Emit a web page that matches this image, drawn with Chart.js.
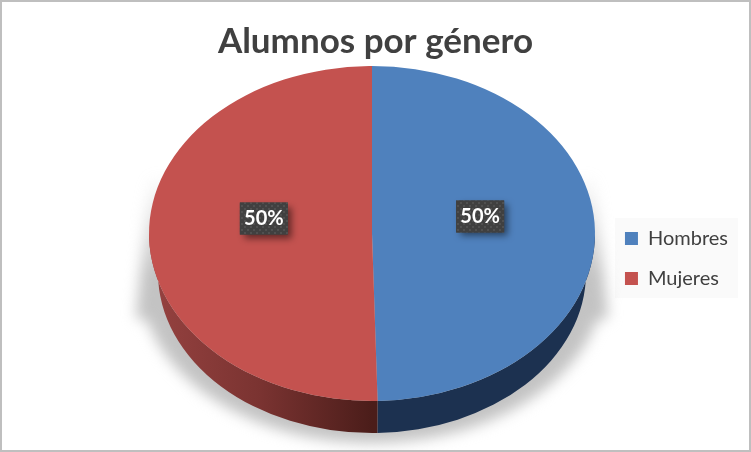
<!DOCTYPE html>
<html>
<head>
<meta charset="utf-8">
<style>
  html, body { margin: 0; padding: 0; background: #fff; }
  canvas { display: block; }
</style>
<script src="https://cdn.jsdelivr.net/npm/chart.js@4"></script>
</head>
<body>
<canvas id="grafico" width="751" height="452"></canvas>
<script>
var titulo = "Alumnos por género";
var categorias = ["Hombres", "Mujeres"];
var valores = [49.6, 50.4];
var colores = ["#4f81bd", "#c4524f"];

// elipse de arriba y elipse de abajo del pastel "3D"
var tapa = { x: 372, y: 233.5, rx: 223, ry: 167.5 };
var base = { x: 372, y: 273, rx: 214, ry: 160 };
var cajaLeyenda = { x: 615, y: 218, w: 123, h: 80 };

function patronEtiqueta(ctx) {
  var c = document.createElement("canvas");
  c.width = 6;
  c.height = 6;
  var p = c.getContext("2d");
  p.fillStyle = "#404040";
  p.fillRect(0, 0, 6, 6);
  p.fillStyle = "#505050";
  p.fillRect(1, 1, 2, 2);
  p.fillRect(4, 4, 2, 2);
  return ctx.createPattern(c, "repeat");
}

function dibujarSombra(ctx) {
  var g = ctx.createLinearGradient(0, 175, 0, 275);
  g.addColorStop(0, "rgba(195,195,195,0)");
  g.addColorStop(1, "rgba(195,195,195,1)");
  ctx.save();
  ctx.filter = "blur(7px)";
  ctx.fillStyle = g;
  ctx.beginPath();
  ctx.moveTo(tapa.x - tapa.rx + 1, 175);
  ctx.lineTo(tapa.x + tapa.rx - 1, 175);
  ctx.lineTo(tapa.x + tapa.rx + 13, 318);
  ctx.ellipse(base.x, 280, 232, 163, 0, 0.25, Math.PI - 0.25);
  ctx.lineTo(tapa.x - tapa.rx - 13, 318);
  ctx.closePath();
  ctx.fill();
  ctx.restore();
}

function dibujarPared(ctx, arco, i) {
  var a0 = Math.max(arco.startAngle, 0);
  var a1 = Math.min(arco.endAngle, Math.PI);
  var g = ctx.createLinearGradient(tapa.x - tapa.rx, 0, tapa.x, 0);
  if (i === 0) {
    g.addColorStop(0, "#1c3150");
    g.addColorStop(1, "#1c3150");
  } else {
    g.addColorStop(0, "#964240");
    g.addColorStop(0.5, "#7a3331");
    g.addColorStop(1, "#4b1d1a");
  }
  ctx.fillStyle = g;
  ctx.beginPath();
  ctx.ellipse(tapa.x, tapa.y, tapa.rx, tapa.ry, 0, a0, a1);
  ctx.ellipse(base.x, base.y, base.rx, base.ry, 0, a1, a0, true);
  ctx.closePath();
  ctx.fill();
}

var pastel3d = {
  id: "pastel3d",
  beforeDraw: function (chart) {
    var ctx = chart.ctx;
    ctx.save();
    ctx.fillStyle = "#fff";
    ctx.fillRect(0, 0, chart.width, chart.height);
    ctx.fillStyle = "#fafafa";
    ctx.fillRect(cajaLeyenda.x, cajaLeyenda.y, cajaLeyenda.w, cajaLeyenda.h);
    ctx.restore();
  },
  beforeDatasetsDraw: function (chart) {
    var ctx = chart.ctx;
    var arcos = chart.getDatasetMeta(0).data;
    dibujarSombra(ctx);
    arcos.forEach(function (arco, i) {
      dibujarPared(ctx, arco, i);
    });
    // el pastel de Chart.js es un circulo: se aplasta a la elipse de la tapa
    var r = arcos[0].outerRadius;
    ctx.save();
    ctx.translate(tapa.x, tapa.y);
    ctx.scale(tapa.rx / r, tapa.ry / r);
    ctx.translate(-arcos[0].x, -arcos[0].y);
  },
  afterDatasetsDraw: function (chart) {
    var ctx = chart.ctx;
    ctx.restore();
    var arcos = chart.getDatasetMeta(0).data;
    var total = valores.reduce(function (a, b) { return a + b; }, 0);
    arcos.forEach(function (arco, i) {
      var medio = (arco.startAngle + arco.endAngle) / 2;
      var x = tapa.x + tapa.rx * 0.485 * Math.cos(medio);
      var y = tapa.y + tapa.ry * 0.485 * Math.sin(medio) - 16;
      var texto = Math.round(valores[i] / total * 100) + "%";
      ctx.save();
      ctx.font = "bold 20px Lato";
      var w = 48;
      var h = 32;
      ctx.shadowColor = "rgba(0,0,0,0.5)";
      ctx.shadowBlur = 7;
      ctx.shadowOffsetX = 4;
      ctx.shadowOffsetY = 4;
      ctx.fillStyle = "#404040";
      ctx.fillRect(x - w / 2, y - h / 2, w, h);
      ctx.shadowColor = "transparent";
      ctx.fillStyle = patronEtiqueta(ctx);
      ctx.fillRect(x - w / 2, y - h / 2, w, h);
      ctx.fillStyle = "#fff";
      ctx.textAlign = "center";
      ctx.textBaseline = "middle";
      ctx.fillText(texto, x, y);
      ctx.restore();
    });
  },
  afterDraw: function (chart) {
    var ctx = chart.ctx;
    ctx.save();
    ctx.strokeStyle = "#bfbfbf";
    ctx.lineWidth = 2;
    ctx.strokeRect(1, 1, chart.width - 2, chart.height - 2);
    ctx.restore();
  }
};

new Chart(document.getElementById("grafico"), {
  type: "pie",
  data: {
    labels: categorias,
    datasets: [{
      data: valores,
      backgroundColor: colores,
      borderWidth: 0,
      clip: false
    }]
  },
  options: {
    responsive: false,
    animation: false,
    layout: { padding: { top: 14, right: 13, bottom: 0, left: 13 } },
    plugins: {
      title: {
        display: true,
        text: titulo,
        color: "#404040",
        font: { family: "Lato", size: 35, weight: "bold" },
        padding: { top: 7, bottom: 2 }
      },
      legend: {
        position: "right",
        fullSize: false,
        labels: {
          boxWidth: 13,
          boxHeight: 13,
          padding: 20,
          color: "#404040",
          font: { family: "Lato", size: 20 }
        }
      },
      tooltip: { enabled: false }
    }
  },
  plugins: [pastel3d]
});
</script>
</body>
</html>
